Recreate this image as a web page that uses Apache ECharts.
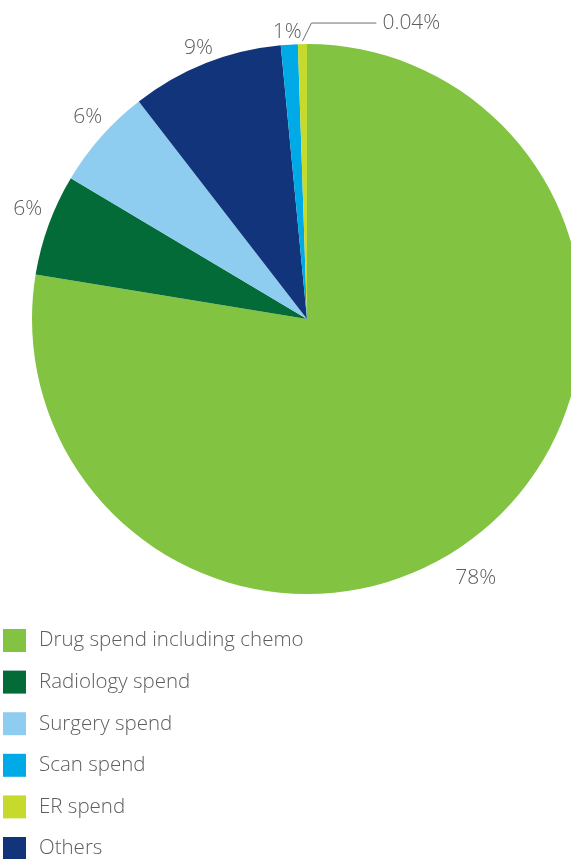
<!DOCTYPE html>
<html>
<head>
<meta charset="utf-8">
<script src="https://cdn.jsdelivr.net/npm/echarts@6/dist/echarts.min.js"></script>
<style>
  html, body { margin: 0; padding: 0; background: #ffffff; }
  #chart { width: 571px; height: 859px; }
</style>
</head>
<body>
<div id="chart"></div>
<script>
// Spend categories, in clockwise order from 12 o'clock
const categories = [
  'Drug spend including chemo',
  'Radiology spend',
  'Surgery spend',
  'Others',
  'Scan spend',
  'ER spend'
];
// Share of total spend, percent
const shares = [78, 6, 6, 9, 1, 0.04];
// Text shown beside each slice
const shareLabels = ['78%', '6%', '6%', '9%', '1%', '0.04%'];
// Legend listing order
const legendOrder = [
  'Drug spend including chemo',
  'Radiology spend',
  'Surgery spend',
  'Scan spend',
  'ER spend',
  'Others'
];

const colors = {
  'Drug spend including chemo': '#82c341',
  'Radiology spend': '#036b37',
  'Surgery spend': '#8ecdf0',
  'Scan spend': '#00aae6',
  'ER spend': '#c6da2e',
  'Others': '#12347a'
};

// Nudges for the outside labels (dx, dy), one per slice
const labelNudge = [
  [-40, 43],
  [6, -13],
  [12, -14],
  [15, -8],
  [18, -5],
  [143, -13]
];
// The tiny ER slice gets a bent leader line out to its label on the right
const leaderSlice = 5;

const chart = echarts.init(document.getElementById('chart'), null, { renderer: 'canvas' });

chart.setOption({
  animation: false,
  textStyle: { fontFamily: '"Open Sans", sans-serif' },
  legend: {
    data: legendOrder,
    orient: 'vertical',
    left: 3,
    top: 629,
    height: 300,
    padding: 0,
    itemWidth: 23,
    itemHeight: 23,
    itemGap: 18.6,
    icon: 'rect',
    selectedMode: false,
    textStyle: {
      fontSize: 20.5,
      fontWeight: 300,
      color: '#5c5d5f',
      fontFamily: '"Open Sans", sans-serif',
      padding: [0, 0, 0, 8]
    }
  },
  series: [{
    type: 'pie',
    center: [307, 319],
    radius: 275,
    startAngle: 90,
    clockwise: true,
    minAngle: 1.9,
    avoidLabelOverlap: false,
    silent: true,
    label: {
      show: true,
      position: 'outside',
      fontSize: 21,
      fontWeight: 300,
      color: '#5c5d5f',
      fontFamily: '"Open Sans", sans-serif',
      formatter: (p) => shareLabels[p.dataIndex]
    },
    labelLine: { show: false, length: 8, length2: 0 },
    labelLayout: (params) => {
      const n = labelNudge[params.dataIndex];
      const out = { dx: n[0], dy: n[1] };
      if (params.dataIndex === leaderSlice && params.labelLinePoints) {
        const start = params.labelLinePoints[0];
        const r = params.labelRect;
        const left = r.x + n[0];
        const cy = r.y + r.height / 2 + n[1];
        out.labelLinePoints = [
          [start[0], start[1] - 3],
          [start[0] + 9, cy],
          [left - 6, cy]
        ];
      }
      return out;
    },
    data: categories.map((name, i) => {
      const item = {
        name: name,
        value: shares[i],
        itemStyle: { color: colors[name] }
      };
      if (i === leaderSlice) {
        item.labelLine = {
          show: true,
          length: 8,
          length2: 0,
          lineStyle: { color: '#6d6e70', width: 1 }
        };
      }
      return item;
    })
  }]
});
</script>
</body>
</html>
